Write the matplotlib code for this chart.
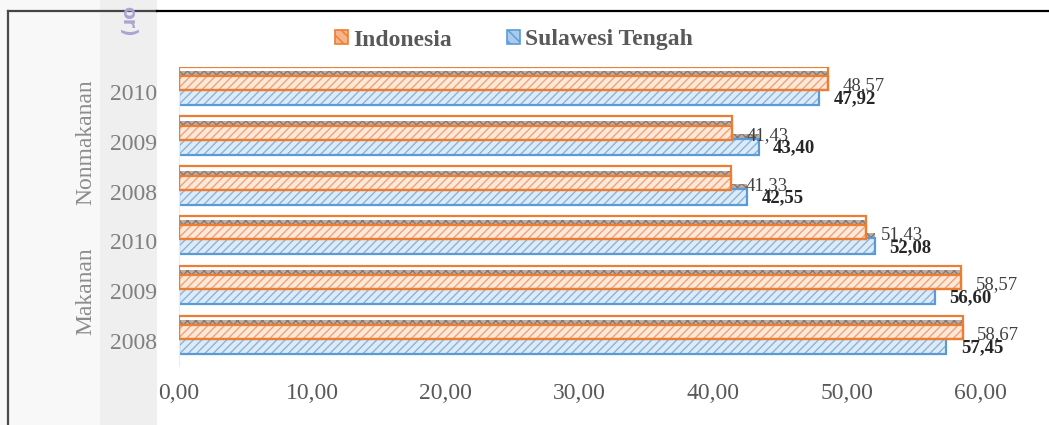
import matplotlib
matplotlib.use("Agg")
import matplotlib.pyplot as plt
from matplotlib.patches import Patch, Rectangle
from matplotlib.lines import Line2D
from matplotlib.ticker import FixedLocator
import numpy as np

plt.rcParams['font.family'] = ['Liberation Serif', 'DejaVu Serif']
plt.rcParams['hatch.linewidth'] = 1.0

# ---- data (bottom to top) ----
years = ['2008', '2009', '2010', '2008', '2009', '2010']
groups = ['Makanan', 'Nonmakanan']
indonesia = [58.67, 58.57, 51.43, 41.33, 41.43, 48.57]
sulteng = [57.45, 56.60, 52.08, 42.55, 43.40, 47.92]
series_names = ['Indonesia', 'Sulawesi Tengah']
xticks = [0, 10, 20, 30, 40, 50, 60]

W, H = 1049, 425
fig = plt.figure(figsize=(W / 100, H / 100), dpi=100)

# background page strips (scan look)
fig.patches.append(Rectangle((0, 0), 100 / W, 1, transform=fig.transFigure,
                             facecolor='#f8f8f8', edgecolor='none', zorder=-2))
fig.patches.append(Rectangle((100 / W, 0), 57 / W, 1, transform=fig.transFigure,
                             facecolor='#efefef', edgecolor='none', zorder=-2))
# frame lines
fig.lines.append(Line2D([8 / W, 157 / W], [1 - 10.5 / H] * 2, transform=fig.transFigure,
                        color='#454545', lw=1.6, zorder=-1))
fig.lines.append(Line2D([157 / W, 1], [1 - 10.5 / H] * 2, transform=fig.transFigure,
                        color='#000000', lw=1.6, zorder=-1))
fig.lines.append(Line2D([8 / W] * 2, [0, 1 - 10.5 / H], transform=fig.transFigure,
                        color='#4a4a4a', lw=1.6, zorder=-1))
# watermark tail
fig.text(128 / W, 1 - 37 / H, 'or)', rotation=-90, ha='center', va='bottom',
         color='#aaa5d2', fontsize=13.5, fontweight='bold', family='DejaVu Sans', zorder=-1)

x0, x1 = 178.5, 980.5
ytop, ybot = 67, 366
ax = fig.add_axes([x0 / W, 1 - ybot / H, (x1 - x0) / W, (ybot - ytop) / H])
ax.set_facecolor('none')

pos = np.arange(len(years))

o_face, o_hatch, o_edge = '#fde8da', '#f3a273', '#ed7d31'
b_face, b_hatch, b_edge = '#deebf7', '#86b4e0', '#5b9bd5'
s_face, s_hatch = '#c2aca0', '#867a74'

# blue series (behind)
ax.barh(pos + 0.11, sulteng, height=0.10, color=s_face, hatch='xxxx',
        edgecolor=s_hatch, lw=0, zorder=2)
ax.barh(pos - 0.10, sulteng, height=0.32, color=b_face, hatch='////',
        edgecolor=b_hatch, lw=0, zorder=2)
ax.barh(pos - 0.10, sulteng, height=0.32, color='none', edgecolor=b_edge, lw=1.6, zorder=2.5)
# orange series (front)
ax.barh(pos + 0.37, indonesia, height=0.10, color=s_face, hatch='xxxx',
        edgecolor=s_hatch, lw=0, zorder=3)
ax.barh(pos + 0.18, indonesia, height=0.28, color=o_face, hatch='////',
        edgecolor=o_hatch, lw=0, zorder=3)
ax.barh(pos + 0.275, indonesia, height=0.47, color='none', edgecolor=o_edge, lw=1.6, zorder=3.5)
ax.barh(pos + 0.18, indonesia, height=0.28, color='none', edgecolor=o_edge, lw=1.6, zorder=3.5)

fmt = lambda v: f"{v:.2f}".replace('.', ',')
for p, v in zip(pos, indonesia):
    ax.annotate(fmt(v), xy=(v, p + 0.13), xytext=(10.5, 0), textcoords='offset points',
                ha='left', va='center', fontsize=13.5, color='#404040', zorder=5)
for p, v in zip(pos, sulteng):
    ax.annotate(fmt(v), xy=(v, p - 0.13), xytext=(10.5, 0), textcoords='offset points',
                ha='left', va='center', fontsize=13.5, fontweight='bold',
                color='#262626', zorder=5)

ax.set_xlim(0, 60)
ax.set_ylim(-0.5, len(years) - 0.5)
ax.xaxis.set_major_locator(FixedLocator(xticks))
ax.set_xticklabels([fmt(t) for t in xticks])
ax.set_yticks(pos)
ax.set_yticklabels(years)
ax.tick_params(axis='x', length=0, pad=12.5, labelsize=17, labelcolor='#595959')
ax.tick_params(axis='y', length=0, pad=15.5, labelsize=17, labelcolor='#7f7f7f')
for s in ['top', 'right', 'bottom']:
    ax.spines[s].set_visible(False)
ax.spines['left'].set_color('#ececec')
ax.spines['left'].set_linewidth(0.8)

# group labels
tr = ax.get_yaxis_transform()
gx = (86 - x0) / (x1 - x0)
ax.text(gx, 1.0, groups[0], transform=tr, rotation=90, ha='center', va='center',
        fontsize=17, color='#8c8c8c')
ax.text(gx, 4.0, groups[1], transform=tr, rotation=90, ha='center', va='center',
        fontsize=17, color='#8c8c8c')

# legend
handles = [Patch(facecolor='#f6b48a', edgecolor=o_edge, hatch='\\\\\\', lw=1.2),
           Patch(facecolor='#a9cbec', edgecolor=b_edge, hatch='\\\\\\', lw=1.2)]
leg = fig.legend(handles, series_names, loc='center', bbox_to_anchor=(514 / W, 1 - 40 / H),
                 ncol=2, frameon=False, handlelength=0.55, handleheight=0.55,
                 handletextpad=0.25, columnspacing=2.3,
                 prop={'family': 'Liberation Serif', 'weight': 'bold', 'size': 17})
for t in leg.get_texts():
    t.set_color('#595959')

fig.savefig('out.png', dpi=100)
